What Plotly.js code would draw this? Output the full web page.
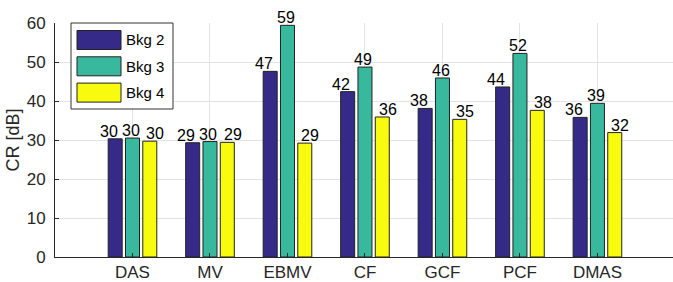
<!DOCTYPE html>
<html>
<head>
<meta charset="utf-8">
<script src="https://cdn.plot.ly/plotly-3.0.1.min.js"></script>
<style>html,body{margin:0;padding:0;background:#fff;}#chart{width:673px;height:282px;}</style>
</head>
<body>
<div id="chart"></div>
<script>
var methods = ["DAS", "MV", "EBMV", "CF", "GCF", "PCF", "DMAS"];
var seriesNames = ["Bkg 2", "Bkg 3", "Bkg 4"];
var bkg2 = [30.3, 29.3, 47.6, 42.4, 38.1, 43.6, 35.8];
var bkg3 = [30.5, 29.6, 59.4, 48.7, 45.9, 52.2, 39.4];
var bkg4 = [29.7, 29.4, 29.2, 35.9, 35.3, 37.6, 31.9];
var bkg2Labels = ["30", "29", "47", "42", "38", "44", "36"];
var bkg3Labels = ["30", "30", "59", "49", "46", "52", "39"];
var bkg4Labels = ["30", "29", "29", "36", "35", "38", "32"];
var yTicks = [0, 10, 20, 30, 40, 50, 60];

var colors = ["#352a87", "#38b99e", "#f9fb0e"];
var series = [bkg2, bkg3, bkg4];
var labels = [bkg2Labels, bkg3Labels, bkg4Labels];
var xPos = methods.map(function (m, i) { return i + 1; });

var font = "Liberation Sans, Arial, Helvetica, sans-serif";
var W = 673, H = 282;
var mL = 55, mR = 0, mT = 23, mB = 25;
var pw = W - mL - mR, ph = H - mT - mB;
function px(x) { return (x - mL) / pw; }
function py(y) { return (H - mB - y) / ph; }

var traces = series.map(function (vals, k) {
  return {
    type: "bar",
    name: seriesNames[k],
    x: xPos,
    y: vals,
    marker: {color: colors[k], line: {color: "#222", width: 1}},
    showlegend: false,
    hoverinfo: "x+y"
  };
});

var shapes = [];
var annotations = [];
// value labels (bar tops), slightly spread as in the reference
var labelShift = [-6.5, -1.5, 5.5];
var barShift = [-17.3, 0, 17.3];
series.forEach(function (vals, k) {
  vals.forEach(function (v, i) {
    annotations.push({xref: "x", yref: "y", x: xPos[i], y: v,
      xanchor: "center", yanchor: "bottom", showarrow: false,
      xshift: barShift[k] + labelShift[k], yshift: -3,
      text: labels[k][i], font: {family: font, size: 16, color: "#000"}});
  });
});
// legend box
shapes.push({type: "rect", xref: "paper", yref: "paper",
  x0: px(71), x1: px(173), y0: py(109), y1: py(23),
  line: {color: "#333", width: 1}, fillcolor: "#fff", layer: "above"});
var rowTop = [30.5, 56.8, 83.1];
seriesNames.forEach(function (n, k) {
  shapes.push({type: "rect", xref: "paper", yref: "paper",
    x0: px(77), x1: px(121), y0: py(rowTop[k] + 19), y1: py(rowTop[k]),
    line: {color: "#222", width: 1}, fillcolor: colors[k], layer: "above"});
  annotations.push({xref: "paper", yref: "paper", x: px(124), y: py(rowTop[k] + 9.5),
    xanchor: "left", yanchor: "middle", showarrow: false, text: n,
    font: {family: font, size: 15, color: "#000"}});
});

var layout = {
  width: W, height: H,
  margin: {l: mL, r: mR, t: mT, b: mB, pad: 0},
  paper_bgcolor: "#fff", plot_bgcolor: "#fff",
  barmode: "group", bargap: 0.33, bargroupgap: 0.19,
  font: {family: font, size: 17, color: "#262626"},
  xaxis: {
    range: [0, 7.975], tickvals: xPos, ticktext: methods,
    showgrid: true, gridcolor: "#e3e3e3", gridwidth: 1,
    showline: true, linecolor: "#262626", linewidth: 1,
    ticks: "inside", ticklen: 4, tickcolor: "#262626",
    tickfont: {family: font, size: 17, color: "#262626"},
    ticklabelstandoff: 0,
    zeroline: false, fixedrange: true
  },
  yaxis: {
    range: [0, 60], tickvals: yTicks,
    showgrid: true, gridcolor: "#e3e3e3", gridwidth: 1,
    showline: true, linecolor: "#262626", linewidth: 1,
    ticks: "inside", ticklen: 4, tickcolor: "#262626",
    tickfont: {family: font, size: 17, color: "#262626"},
    ticklabelstandoff: 5,
    zeroline: false, fixedrange: true,
    title: {text: "CR [dB]", font: {family: font, size: 18, color: "#262626"}, standoff: 2}
  },
  shapes: shapes,
  annotations: annotations
};

Plotly.newPlot("chart", traces, layout, {displayModeBar: false, staticPlot: true});
</script>
</body>
</html>
